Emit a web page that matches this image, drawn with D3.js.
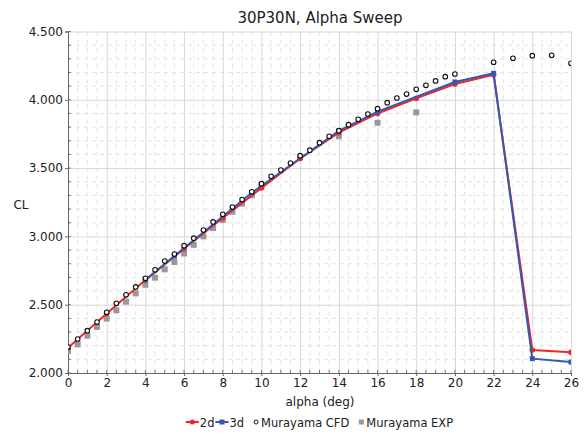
<!DOCTYPE html>
<html>
<head>
<meta charset="utf-8">
<script src="https://cdn.jsdelivr.net/npm/d3@7"></script>
<style>
  body { margin: 0; background: #fff; }
  text { font-family: "DejaVu Sans", sans-serif; fill: #222; }
</style>
</head>
<body>
<div id="chart"></div>
<script>
// 2d / 3d simulation results
const alpha2d = [0, 2, 4, 6, 8, 10, 12, 14, 16, 18, 20, 22, 24, 26];
const cl2d = [2.185, 2.435, 2.68, 2.91, 3.135, 3.355, 3.57, 3.76, 3.90, 4.01, 4.116, 4.184, 2.168, 2.151];
const alpha3d = [4, 5.5, 9.5, 14, 16, 20, 22, 24, 26];
const cl3d = [2.683, 2.856, 3.32, 3.772, 3.913, 4.130, 4.194, 2.105, 2.08];

// Murayama reference data
const alphaCfd = [0, 0.5, 1, 1.5, 2, 2.5, 3, 3.5, 4, 4.5, 5, 5.5, 6, 6.5, 7, 7.5, 8, 8.5, 9, 9.5, 10,
  10.5, 11, 11.5, 12, 12.5, 13, 13.5, 14, 14.5, 15, 15.5, 16, 16.5, 17, 17.5, 18, 18.5, 19, 19.5, 20,
  22, 23, 24, 25, 26];
const clCfd = [2.19, 2.249, 2.31, 2.373, 2.444, 2.51, 2.573, 2.63, 2.693, 2.755, 2.82, 2.871, 2.932, 2.987, 3.047, 3.106, 3.162, 3.215, 3.27, 3.327, 3.386,
  3.44, 3.486, 3.537, 3.591, 3.631, 3.686, 3.733, 3.774, 3.818, 3.857, 3.896, 3.935, 3.979, 4.013, 4.042, 4.077, 4.106, 4.138, 4.169, 4.189,
  4.275, 4.304, 4.323, 4.326, 4.267];
const alphaExp = [0, 0.5, 1, 1.5, 2, 2.5, 3, 3.5, 4, 4.5, 5, 5.5, 6, 6.5, 7, 7.5, 8, 8.5, 9, 9.5, 10, 12, 14, 16, 18];
const clExp = [2.161, 2.21, 2.273, 2.337, 2.398, 2.459, 2.522, 2.583, 2.646, 2.698, 2.759, 2.813, 2.875, 2.938, 3.0, 3.061, 3.12, 3.18, 3.24, 3.30, 3.367, 3.583, 3.733, 3.832, 3.908];

const xTicks = d3.range(0, 27, 2);
const yTicks = [2.0, 2.5, 3.0, 3.5, 4.0, 4.5];
const legendNames = ["2d", "3d", "Murayama CFD", "Murayama EXP"];

const red = "#f0262c", blue = "#3558b0", grey = "#999";

const margin = {top: 31.5, right: 14, bottom: 60, left: 68},
  width = 585 - margin.left - margin.right,
  height = 433 - margin.top - margin.bottom;

const root = d3.select("#chart").append("svg")
  .attr("width", 585).attr("height", 433);

const svg = root.append("g")
  .attr("transform", `translate(${margin.left}, ${margin.top})`);

const x = d3.scaleLinear().domain([0, 26]).range([0, width]);
const y = d3.scaleLinear().domain([2, 4.5]).range([height, 0]);

// minor dashed grid
svg.append("g")
  .selectAll("line")
  .data(d3.range(0, 26.01, 0.5).filter(v => v % 2 !== 0))
  .join("line")
  .attr("x1", d => x(d)).attr("x2", d => x(d))
  .attr("y1", 0).attr("y2", height)
  .attr("stroke", "#e3e3e3").attr("stroke-dasharray", "4,4");
svg.append("g")
  .selectAll("line")
  .data(d3.range(20, 45, 1).map(v => v / 10).filter(v => Math.round(v * 10) % 5 !== 0))
  .join("line")
  .attr("y1", d => y(d)).attr("y2", d => y(d))
  .attr("x1", 0).attr("x2", width)
  .attr("stroke", "#e3e3e3").attr("stroke-dasharray", "4,4");

// major grid
svg.append("g")
  .call(d3.axisBottom(x).tickValues(xTicks).tickSize(height).tickFormat(""))
  .call(g => g.select(".domain").remove())
  .call(g => g.selectAll("line").attr("stroke", "#d8d8d8"));
svg.append("g")
  .call(d3.axisLeft(y).tickValues(yTicks).tickSize(-width).tickFormat(""))
  .call(g => g.select(".domain").remove())
  .call(g => g.selectAll("line").attr("stroke", "#d8d8d8"));

// minor axis ticks (inside)
svg.append("g")
  .selectAll("line")
  .data(d3.range(0, 26.01, 0.5))
  .join("line")
  .attr("x1", d => x(d)).attr("x2", d => x(d))
  .attr("y1", height).attr("y2", height - 3)
  .attr("stroke", "#777");
svg.append("g")
  .selectAll("line")
  .data(d3.range(20, 46, 1).map(v => v / 10))
  .join("line")
  .attr("y1", d => y(d)).attr("y2", d => y(d))
  .attr("x1", 0).attr("x2", 3)
  .attr("stroke", "#777");

// axes
svg.append("g")
  .attr("transform", "translate(0," + height + ")")
  .call(d3.axisBottom(x).tickValues(xTicks).tickSize(3).tickPadding(2).tickFormat(d3.format("d")))
  .call(g => g.select(".domain").attr("stroke", "#666"))
  .call(g => g.selectAll("line").attr("stroke", "#666"))
  .call(g => g.selectAll("text").style("font-size", "12px").attr("fill", "#222"));

svg.append("g")
  .call(d3.axisLeft(y).tickValues(yTicks).tickSize(3).tickPadding(2).tickFormat(d3.format(".3f")))
  .call(g => g.select(".domain").attr("stroke", "#666"))
  .call(g => g.selectAll("line").attr("stroke", "#666"))
  .call(g => g.selectAll("text").style("font-size", "12px").attr("fill", "#222"));

// labels
root.append("text")
  .attr("x", 320).attr("y", 23)
  .style("text-anchor", "middle").style("font-size", "15px")
  .text("30P30N, Alpha Sweep");

root.append("text")
  .attr("x", 21).attr("y", 209)
  .style("text-anchor", "middle").style("font-size", "12px")
  .text("CL");

root.append("text")
  .attr("x", 320).attr("y", 406)
  .style("text-anchor", "middle").style("font-size", "12px")
  .text("alpha (deg)");

// data
svg.append("clipPath").attr("id", "clip")
  .append("rect").attr("width", width).attr("height", height);
const plot = svg.append("g").attr("clip-path", "url(#clip)");

const line = d3.line().x(d => x(d[0])).y(d => y(d[1]));
const d2 = alpha2d.map((a, i) => [a, cl2d[i]]);
const d3d = alpha3d.map((a, i) => [a, cl3d[i]]);
const dCfd = alphaCfd.map((a, i) => [a, clCfd[i]]);
const dExp = alphaExp.map((a, i) => [a, clExp[i]]);

plot.append("g").selectAll("rect")
  .data(dExp).join("rect")
  .attr("x", d => x(d[0]) - 3).attr("y", d => y(d[1]) - 3)
  .attr("width", 6).attr("height", 6)
  .attr("fill", grey);

plot.append("path").datum(d2)
  .attr("d", line).attr("fill", "none")
  .attr("stroke", red).attr("stroke-width", 2);
plot.append("g").selectAll("circle")
  .data(d2).join("circle")
  .attr("cx", d => x(d[0])).attr("cy", d => y(d[1])).attr("r", 2.8)
  .attr("fill", red);

plot.append("path").datum(d3d)
  .attr("d", line).attr("fill", "none")
  .attr("stroke", blue).attr("stroke-width", 2);
plot.append("g").selectAll("rect")
  .data(d3d).join("rect")
  .attr("x", d => x(d[0]) - 2.5).attr("y", d => y(d[1]) - 2.5)
  .attr("width", 5).attr("height", 5)
  .attr("fill", blue);

plot.append("g").selectAll("circle")
  .data(dCfd).join("circle")
  .attr("cx", d => x(d[0])).attr("cy", d => y(d[1])).attr("r", 2.3)
  .attr("fill", "#fff").attr("stroke", "#111").attr("stroke-width", 1.1);

// legend, laid out left to right then centred under the plot
const leg = root.append("g");
let cx = 0;
legendNames.forEach((name, i) => {
  const item = leg.append("g").attr("transform", `translate(${cx}, 0)`);
  let sw;
  if (i < 2) {
    sw = 13;
    item.append("line").attr("x1", 0).attr("x2", sw).attr("y1", 0).attr("y2", 0)
      .attr("stroke", i === 0 ? red : blue).attr("stroke-width", 2);
    if (i === 0) item.append("circle").attr("cx", sw / 2).attr("r", 2.5).attr("fill", red);
    else item.append("rect").attr("x", sw / 2 - 2.5).attr("y", -2.5).attr("width", 5).attr("height", 5).attr("fill", blue);
  } else {
    sw = 7;
    if (i === 2) item.append("circle").attr("cx", 3).attr("r", 2)
      .attr("fill", "#fff").attr("stroke", "#111");
    else item.append("rect").attr("x", 0.5).attr("y", -2.5).attr("width", 5).attr("height", 5).attr("fill", grey);
  }
  const t = item.append("text").attr("x", sw + 1).attr("y", 4.5)
    .style("font-size", "11.5px").text(name);
  cx += sw + 1 + t.node().getComputedTextLength() + (i < 1 ? 1 : 9);
});
leg.attr("transform", `translate(${320 - cx / 2 + 4}, 422)`);
</script>
</body>
</html>
